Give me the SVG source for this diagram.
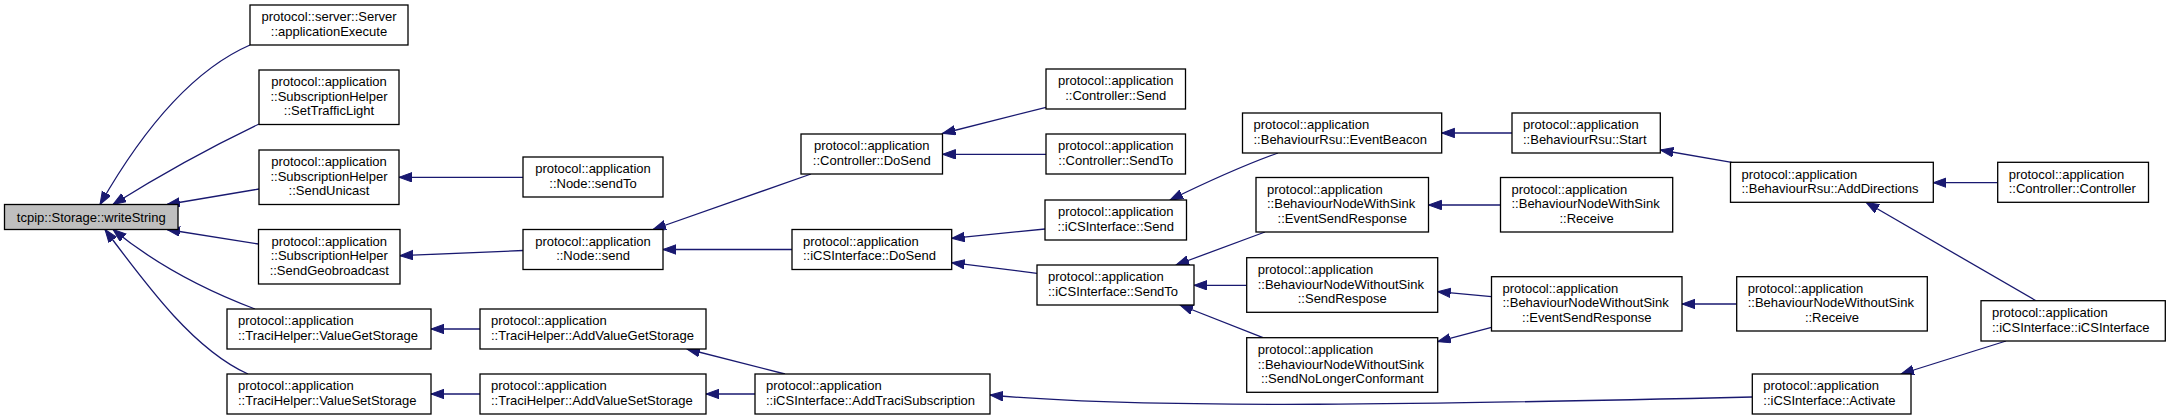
<svg xmlns="http://www.w3.org/2000/svg" width="2171" height="420" viewBox="0 0 2171 420">
<style>
.n rect{fill:#ffffff;stroke:#000000;stroke-width:1.3}
.root rect{fill:#bfbfbf}
.n text{font-family:"Liberation Sans",Arial,Helvetica,sans-serif;font-size:13px;fill:#000000}
.c{text-anchor:middle}
.e path{fill:none;stroke:#191970;stroke-width:1.3;marker-end:url(#ah)}
</style>
<defs>
<marker id="ah" markerWidth="14" markerHeight="11" refX="13" refY="5" orient="auto" markerUnits="userSpaceOnUse">
<path d="M0,0.3 L13,5 L0,9.7 Z" fill="#191970" stroke="#191970" stroke-width="1"/>
</marker>
</defs>
<rect width="2171" height="420" fill="#ffffff"/>
<g id="edges" class="e">
<path d="M250,45 C188,72 138,138 100,204.5"/>
<path d="M259,124 C215,145 160,175 113,204.5"/>
<path d="M259,189 L167,204.5"/>
<path d="M258.5,244 L167,229.5"/>
<path d="M255,309 C210,292 160,268 113,229.5"/>
<path d="M248,374 C195,350 150,290 105,229.5"/>
<path d="M523,177.3 L399,177.3"/>
<path d="M523,250.5 L400,255.7"/>
<path d="M480,329 L431,329"/>
<path d="M480,394 L431,394"/>
<path d="M811,174 L653,229.5"/>
<path d="M792,249.5 L663,249.5"/>
<path d="M785,374 L687,349"/>
<path d="M755,394 L706,394"/>
<path d="M1046,107.3 L942.5,133.5"/>
<path d="M1046,154.3 L942.5,154.3"/>
<path d="M1045,229 L951.7,238.3"/>
<path d="M1037,273.3 L951.7,262.7"/>
<path d="M1278,153 C1250,163 1215,178 1170,200"/>
<path d="M1265,232 L1176,265"/>
<path d="M1246.7,285.3 L1194,285.3"/>
<path d="M1263,337.7 L1180,305"/>
<path d="M1512,133 L1441.7,133"/>
<path d="M1500.5,205 L1428.5,205"/>
<path d="M1491.5,296.7 L1437.7,291.7"/>
<path d="M1491.5,327.3 L1437.7,341.7"/>
<path d="M1731.7,162.3 L1660.3,150"/>
<path d="M1736.7,304 L1682,304"/>
<path d="M1997.7,182.7 L1933.3,182.7"/>
<path d="M2036,300.7 L1866,202.3"/>
<path d="M2006,341 L1901,374"/>
<path d="M1752.3,397 C1450,404 1150,410 990,395"/>
</g>
<g id="n0" class="n root"><rect x="4.5" y="204.5" width="173.5" height="25"/><text class="c" x="91.25" y="221.5">tcpip::Storage::writeString</text></g>
<g id="n1" class="n"><rect x="250" y="5" width="158" height="40"/><text class="c" x="329" y="21.2">protocol::server::Server</text><text class="c" x="329" y="35.8">::applicationExecute</text></g>
<g id="n2" class="n"><rect x="259" y="70" width="140" height="54.5"/><text class="c" x="329" y="86.15">protocol::application</text><text class="c" x="329" y="100.75">::SubscriptionHelper</text><text class="c" x="329" y="115.35">::SetTrafficLight</text></g>
<g id="n3" class="n"><rect x="259" y="150" width="140" height="54.5"/><text class="c" x="329" y="166.15">protocol::application</text><text class="c" x="329" y="180.75">::SubscriptionHelper</text><text class="c" x="329" y="195.35">::SendUnicast</text></g>
<g id="n4" class="n"><rect x="258.5" y="229.5" width="141.5" height="54.5"/><text class="c" x="329.25" y="245.65">protocol::application</text><text class="c" x="329.25" y="260.25">::SubscriptionHelper</text><text class="c" x="329.25" y="274.85">::SendGeobroadcast</text></g>
<g id="n5" class="n"><rect x="227" y="309" width="204" height="40"/><text x="238" y="325.2">protocol::application</text><text x="238" y="339.8">::TraciHelper::ValueGetStorage</text></g>
<g id="n6" class="n"><rect x="227" y="374" width="204" height="40"/><text x="238" y="390.2">protocol::application</text><text x="238" y="404.8">::TraciHelper::ValueSetStorage</text></g>
<g id="n7" class="n"><rect x="523" y="157" width="140" height="40"/><text class="c" x="593" y="173.2">protocol::application</text><text class="c" x="593" y="187.8">::Node::sendTo</text></g>
<g id="n8" class="n"><rect x="523" y="229.5" width="140" height="40"/><text class="c" x="593" y="245.7">protocol::application</text><text class="c" x="593" y="260.3">::Node::send</text></g>
<g id="n9" class="n"><rect x="480" y="309" width="226" height="40"/><text x="491" y="325.2">protocol::application</text><text x="491" y="339.8">::TraciHelper::AddValueGetStorage</text></g>
<g id="n10" class="n"><rect x="480" y="374" width="226" height="40"/><text x="491" y="390.2">protocol::application</text><text x="491" y="404.8">::TraciHelper::AddValueSetStorage</text></g>
<g id="n11" class="n"><rect x="755" y="374" width="235" height="40"/><text x="766" y="390.2">protocol::application</text><text x="766" y="404.8">::iCSInterface::AddTraciSubscription</text></g>
<g id="n12" class="n"><rect x="801" y="134" width="141.5" height="40"/><text class="c" x="871.75" y="150.2">protocol::application</text><text class="c" x="871.75" y="164.8">::Controller::DoSend</text></g>
<g id="n13" class="n"><rect x="792" y="229.5" width="159.7" height="40"/><text x="803" y="245.7">protocol::application</text><text x="803" y="260.3">::iCSInterface::DoSend</text></g>
<g id="n14" class="n"><rect x="1046" y="69" width="139.5" height="40"/><text class="c" x="1115.75" y="85.2">protocol::application</text><text class="c" x="1115.75" y="99.8">::Controller::Send</text></g>
<g id="n15" class="n"><rect x="1046" y="134" width="139.5" height="40"/><text class="c" x="1115.75" y="150.2">protocol::application</text><text class="c" x="1115.75" y="164.8">::Controller::SendTo</text></g>
<g id="n16" class="n"><rect x="1045" y="200" width="141.5" height="40"/><text class="c" x="1115.75" y="216.2">protocol::application</text><text class="c" x="1115.75" y="230.8">::iCSInterface::Send</text></g>
<g id="n17" class="n"><rect x="1037" y="265" width="157" height="40"/><text x="1048" y="281.2">protocol::application</text><text x="1048" y="295.8">::iCSInterface::SendTo</text></g>
<g id="n18" class="n"><rect x="1242.5" y="113" width="199.2" height="40"/><text x="1253.5" y="129.2">protocol::application</text><text x="1253.5" y="143.8">::BehaviourRsu::EventBeacon</text></g>
<g id="n19" class="n"><rect x="1256" y="177.5" width="172.5" height="54.5"/><text x="1267" y="193.65">protocol::application</text><text x="1267" y="208.25">::BehaviourNodeWithSink</text><text class="c" x="1342.25" y="222.85">::EventSendResponse</text></g>
<g id="n20" class="n"><rect x="1246.7" y="257.7" width="191" height="54.6"/><text x="1257.7" y="273.9">protocol::application</text><text x="1257.7" y="288.5">::BehaviourNodeWithoutSink</text><text class="c" x="1342.2" y="303.1">::SendRespose</text></g>
<g id="n21" class="n"><rect x="1246.7" y="337.7" width="191" height="54.6"/><text x="1257.7" y="353.9">protocol::application</text><text x="1257.7" y="368.5">::BehaviourNodeWithoutSink</text><text class="c" x="1342.2" y="383.1">::SendNoLongerConformant</text></g>
<g id="n22" class="n"><rect x="1512" y="113" width="148.3" height="40"/><text x="1523" y="129.2">protocol::application</text><text x="1523" y="143.8">::BehaviourRsu::Start</text></g>
<g id="n23" class="n"><rect x="1500.5" y="177.5" width="172.2" height="54.5"/><text x="1511.5" y="193.65">protocol::application</text><text x="1511.5" y="208.25">::BehaviourNodeWithSink</text><text class="c" x="1586.6" y="222.85">::Receive</text></g>
<g id="n24" class="n"><rect x="1491.5" y="276.7" width="190.5" height="54.3"/><text x="1502.5" y="292.75">protocol::application</text><text x="1502.5" y="307.35">::BehaviourNodeWithoutSink</text><text class="c" x="1586.75" y="321.95">::EventSendResponse</text></g>
<g id="n25" class="n"><rect x="1730.5" y="162.3" width="202.8" height="40"/><text x="1741.5" y="178.5">protocol::application</text><text x="1741.5" y="193.1">::BehaviourRsu::AddDirections</text></g>
<g id="n26" class="n"><rect x="1736.7" y="276.7" width="190.6" height="54.3"/><text x="1747.7" y="292.75">protocol::application</text><text x="1747.7" y="307.35">::BehaviourNodeWithoutSink</text><text class="c" x="1832" y="321.95">::Receive</text></g>
<g id="n27" class="n"><rect x="1997.7" y="162.3" width="150.8" height="40"/><text x="2008.7" y="178.5">protocol::application</text><text x="2008.7" y="193.1">::Controller::Controller</text></g>
<g id="n28" class="n"><rect x="1981" y="300.7" width="184.3" height="40.3"/><text x="1992" y="317.05">protocol::application</text><text x="1992" y="331.65">::iCSInterface::iCSInterface</text></g>
<g id="n29" class="n"><rect x="1752.3" y="374" width="158.7" height="40"/><text x="1763.3" y="390.2">protocol::application</text><text x="1763.3" y="404.8">::iCSInterface::Activate</text></g>
</svg>
